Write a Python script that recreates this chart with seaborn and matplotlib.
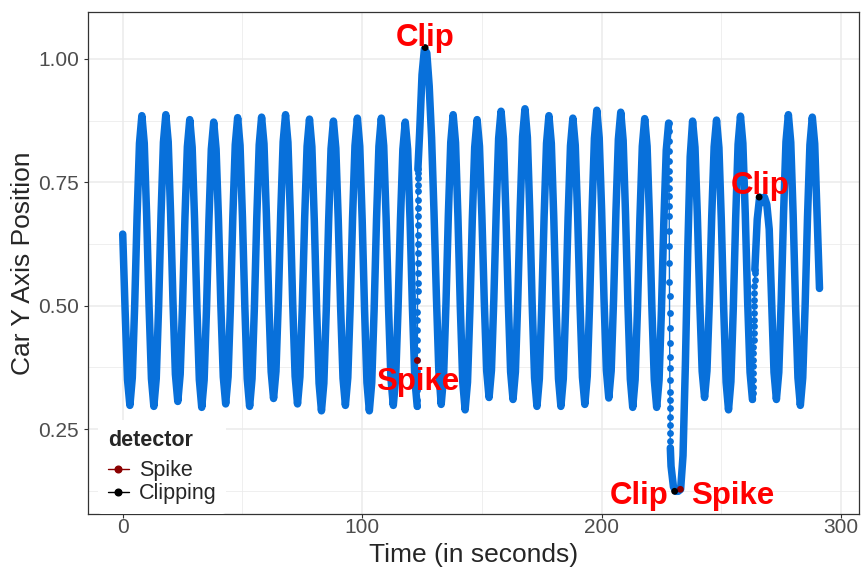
import numpy as np
import pandas as pd
import matplotlib
matplotlib.use("Agg")
import matplotlib.pyplot as plt
import seaborn as sns
from matplotlib.lines import Line2D

# ---------------- data ----------------
# car y position sampled once per second, t = 0 .. 291 s
seconds = np.arange(0, 292)
position = [
    0.645, 0.490, 0.350, 0.298,
    0.354, 0.501, 0.682, 0.829, 0.885, 0.829, 0.682, 0.499, 0.352, 0.296,
    0.352, 0.500, 0.683, 0.831, 0.887, 0.832, 0.686, 0.507, 0.361, 0.306,
    0.361, 0.503, 0.680, 0.822, 0.877, 0.821, 0.676, 0.495, 0.350, 0.294,
    0.349, 0.494, 0.672, 0.817, 0.872, 0.817, 0.675, 0.498, 0.356, 0.301,
    0.356, 0.501, 0.681, 0.826, 0.881, 0.825, 0.679, 0.498, 0.352, 0.296,
    0.352, 0.498, 0.680, 0.826, 0.882, 0.828, 0.685, 0.509, 0.366, 0.312,
    0.367, 0.511, 0.688, 0.832, 0.887, 0.831, 0.685, 0.503, 0.357, 0.301,
    0.356, 0.500, 0.679, 0.823, 0.878, 0.822, 0.674, 0.491, 0.343, 0.287,
    0.343, 0.490, 0.671, 0.818, 0.874, 0.819, 0.675, 0.497, 0.353, 0.298,
    0.354, 0.499, 0.679, 0.824, 0.880, 0.823, 0.675, 0.492, 0.344, 0.287,
    0.344, 0.492, 0.675, 0.823, 0.880, 0.824, 0.679, 0.499, 0.354, 0.298,
    0.353, 0.496, 0.674, 0.817, 0.872, 0.817, 0.673, 0.495, 0.351, 0.296,
    0.850, 0.968, 1.020, 1.012, 0.945, 0.840, 0.690, 0.520, 0.370, 0.300,
    0.356, 0.503, 0.684, 0.831, 0.887, 0.830, 0.680, 0.496, 0.346, 0.289,
    0.345, 0.492, 0.674, 0.821, 0.877, 0.823, 0.682, 0.509, 0.368, 0.314,
    0.369, 0.514, 0.694, 0.839, 0.894, 0.838, 0.692, 0.512, 0.366, 0.310,
    0.366, 0.513, 0.696, 0.843, 0.899, 0.841, 0.691, 0.504, 0.354, 0.296,
    0.352, 0.499, 0.682, 0.829, 0.885, 0.829, 0.682, 0.499, 0.352, 0.296,
    0.352, 0.498, 0.678, 0.824, 0.880, 0.825, 0.680, 0.500, 0.355, 0.300,
    0.357, 0.506, 0.690, 0.839, 0.896, 0.840, 0.695, 0.514, 0.369, 0.313,
    0.368, 0.513, 0.692, 0.837, 0.892, 0.835, 0.685, 0.501, 0.351, 0.294,
    0.350, 0.496, 0.677, 0.823, 0.879, 0.823, 0.677, 0.496, 0.350, 0.294,
    0.349, 0.493, 0.671, 0.815, 0.870, 0.175, 0.133, 0.124, 0.124, 0.128,
    0.196, 0.383, 0.615, 0.802, 0.874, 0.821, 0.681, 0.507, 0.367, 0.314,
    0.368, 0.508, 0.682, 0.822, 0.876, 0.820, 0.673, 0.492, 0.345, 0.289,
    0.346, 0.495, 0.678, 0.827, 0.884, 0.829, 0.686, 0.508, 0.365, 0.310,
    0.573, 0.675, 0.720, 0.709, 0.720, 0.705, 0.655, 0.510, 0.365, 0.310,
    0.365, 0.509, 0.688, 0.832, 0.887, 0.831, 0.684, 0.501, 0.354, 0.298,
    0.354, 0.500, 0.680, 0.826, 0.882,
    0.828, 0.682, 0.535,
]

# fast transitions, where the individual samples are visible as dots
spike_rise_t = [123.00, 123.01, 123.02, 123.03, 123.04, 123.05, 123.06, 123.07,
                123.08, 123.09, 123.10, 123.11, 123.12, 123.13, 123.14, 123.15,
                123.16, 123.17, 123.18, 123.19, 123.20, 123.21, 123.22, 123.23,
                123.24, 123.25, 123.26, 123.27]
spike_rise_pos = [0.296, 0.309, 0.330, 0.346, 0.367, 0.389, 0.411, 0.431,
                  0.451, 0.472, 0.488, 0.509, 0.529, 0.546, 0.566, 0.587,
                  0.607, 0.624, 0.644, 0.664, 0.681, 0.698, 0.715, 0.732,
                  0.745, 0.759, 0.769, 0.776]
drop_t = [228.00, 228.02, 228.05, 228.07, 228.10, 228.12, 228.14, 228.17,
          228.19, 228.22, 228.24, 228.26, 228.29, 228.31, 228.34, 228.36,
          228.38, 228.41, 228.43, 228.46, 228.48, 228.50, 228.53, 228.55,
          228.58, 228.60, 228.62, 228.65, 228.67, 228.70]
drop_pos = [0.870, 0.854, 0.833, 0.813, 0.793, 0.772, 0.756, 0.739,
            0.722, 0.701, 0.681, 0.651, 0.620, 0.587, 0.549, 0.519,
            0.485, 0.455, 0.424, 0.397, 0.374, 0.350, 0.326, 0.309,
            0.292, 0.275, 0.259, 0.242, 0.225, 0.212]
rise3_t = [263.00, 263.05, 263.10, 263.15, 263.20, 263.25, 263.30, 263.35,
           263.40, 263.45, 263.50, 263.55, 263.60, 263.65, 263.70, 263.75,
           263.80, 263.85, 263.90, 263.95, 264.00]
rise3_pos = [0.310, 0.323, 0.336, 0.350, 0.363, 0.377, 0.390, 0.404,
             0.417, 0.431, 0.445, 0.458, 0.472, 0.485, 0.499, 0.512,
             0.526, 0.539, 0.553, 0.566, 0.573]

# detector hits
detectors = ["Spike", "Clipping"]
spike_t = [123.05, 232.9]
spike_pos = [0.389, 0.128]
clip_t = [126.3, 230.5, 265.8]
clip_pos = [1.023, 0.124, 0.720]

# annotation labels
label_text = ["Clip", "Spike", "Clip", "Clip", "Spike"]
label_t = [126.5, 123.3, 266.3, 215.6, 254.8]
label_pos = [1.042, 0.345, 0.742, 0.114, 0.114]

# ---------------- styling ----------------
BLUE = "#0870DA"
DARKRED = "#8B0000"
sns.set_style("white")
plt.rcParams["font.family"] = ["Liberation Sans", "DejaVu Sans"]

fig = plt.figure(figsize=(8.61, 5.68), dpi=100)
ax = fig.add_axes([88 / 861, 1 - 514 / 568, (859 - 88) / 861, (514 - 12) / 568])

# ---------------- thick (densely sampled) parts ----------------
pos = list(position)
secs = [float(s) for s in seconds]
seg_frames = [
    (secs[:124], pos[:124]),
    ([spike_rise_t[-1]] + secs[124:229], [spike_rise_pos[-1]] + pos[124:229]),
    ([drop_t[-1]] + secs[229:264], [drop_pos[-1]] + pos[229:264]),
    (secs[264:], pos[264:]),
]
thick = pd.concat(
    [pd.DataFrame({"time": t, "pos": p, "seg": i}) for i, (t, p) in enumerate(seg_frames)],
    ignore_index=True,
)
sns.lineplot(data=thick, x="time", y="pos", units="seg", estimator=None, sort=False,
             color=BLUE, lw=5.4, solid_capstyle="round", solid_joinstyle="round",
             ax=ax, legend=False)

# ---------------- fast transitions: thin line + dots ----------------
fast = pd.concat([
    pd.DataFrame({"time": spike_rise_t, "pos": spike_rise_pos, "seg": 0}),
    pd.DataFrame({"time": drop_t, "pos": drop_pos, "seg": 1}),
    pd.DataFrame({"time": rise3_t, "pos": rise3_pos, "seg": 2}),
], ignore_index=True)
sns.lineplot(data=fast, x="time", y="pos", units="seg", estimator=None, sort=False,
             color=BLUE, lw=1.0, ax=ax, legend=False)
sns.scatterplot(data=fast, x="time", y="pos", color=BLUE, s=24, linewidth=0,
                ax=ax, legend=False)

# ---------------- detector points ----------------
det = pd.concat([
    pd.DataFrame({"time": spike_t, "pos": spike_pos, "detector": "Spike"}),
    pd.DataFrame({"time": clip_t, "pos": clip_pos, "detector": "Clipping"}),
], ignore_index=True)
sns.scatterplot(data=det, x="time", y="pos", hue="detector",
                palette={"Spike": DARKRED, "Clipping": "black"},
                s=24, linewidth=0, ax=ax, legend=False, zorder=5)

for txt, tx, ty in zip(label_text, label_t, label_pos):
    ax.text(tx, ty, txt, color="red", fontsize=22.5, fontweight="bold",
            ha="center", va="center", zorder=6)

# ---------------- axes ----------------
ax.set_xlim(-14.5, 307.5)
ax.set_ylim(0.078, 1.095)
ax.set_xticks([0, 100, 200, 300])
ax.set_xticks([50, 150, 250], minor=True)
ax.set_yticks([0.25, 0.50, 0.75, 1.00])
ax.set_yticklabels(["0.25", "0.50", "0.75", "1.00"])
ax.set_yticks([0.125, 0.375, 0.625, 0.875], minor=True)
ax.grid(True, which="major", color="#EBEBEB", lw=1.1)
ax.grid(True, which="minor", color="#EBEBEB", lw=0.55)
ax.set_axisbelow(True)
ax.tick_params(axis="both", which="major", length=3, width=0.8, color="#333333",
               labelsize=15, labelcolor="#4D4D4D", direction="out",
               left=True, bottom=True)
ax.tick_params(axis="y", which="major", pad=3.5)
ax.tick_params(axis="x", which="major", pad=0.0)
ax.tick_params(axis="both", which="minor", length=0)
for sp in ax.spines.values():
    sp.set_color("#333333")
    sp.set_linewidth(0.9)
ax.set_xlabel("Time (in seconds)", fontsize=19, labelpad=4)
ax.set_ylabel("Car Y Axis Position", fontsize=19, labelpad=2)

handles = [Line2D([0], [0], color=DARKRED, lw=1.0, marker="o", markersize=4.8),
           Line2D([0], [0], color="black", lw=1.0, marker="o", markersize=4.8)]
leg = ax.legend(handles, detectors, title="detector", loc="lower left",
                bbox_to_anchor=(0.013, 0.0), borderaxespad=0, frameon=True,
                facecolor="white", edgecolor="none", framealpha=1, fontsize=15.5,
                title_fontproperties={"weight": "bold", "size": 15.5},
                handlelength=1.0, handletextpad=0.45, labelspacing=0.1,
                borderpad=0.45, alignment="left")
leg._legend_box.sep = 6.5
leg.set_zorder(10)

fig.savefig("out.png", dpi=100)
